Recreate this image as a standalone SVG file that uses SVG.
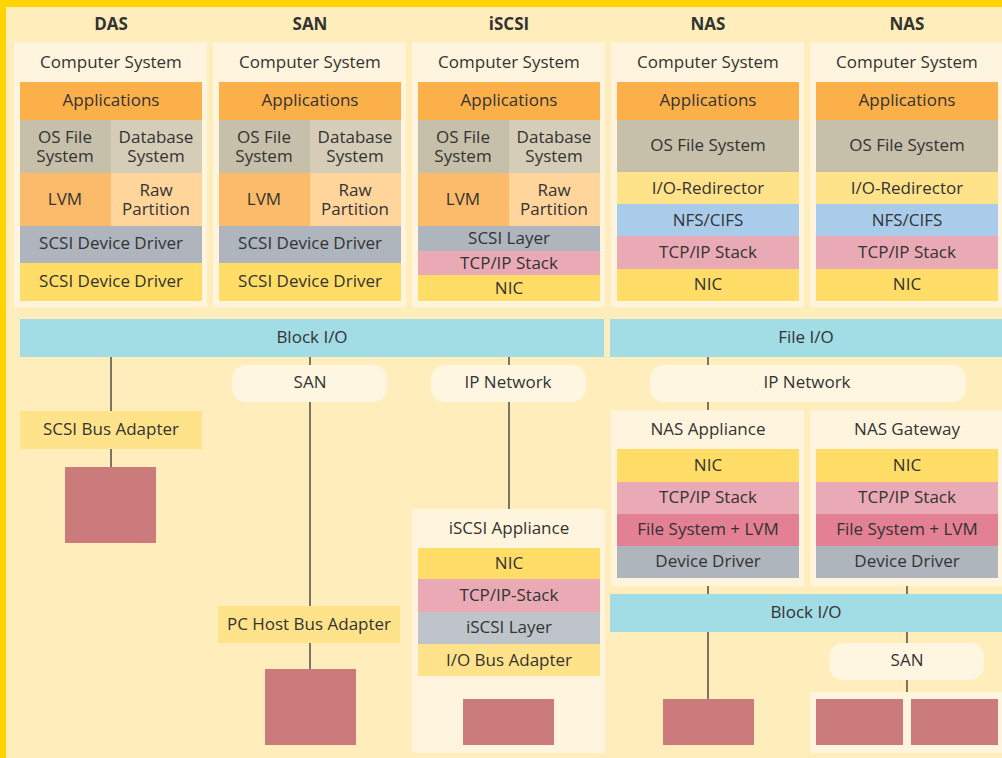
<svg xmlns="http://www.w3.org/2000/svg" width="1002" height="758" viewBox="0 0 1002 758">
<style>
text{font-family:"Open Sans","Noto Sans","Liberation Sans",sans-serif;font-size:17px;fill:#333;text-anchor:middle;dominant-baseline:central}
.title{font-weight:bold}
.panel{fill:#FFF5DE}
.app{fill:#FBB04A}
.osfs{fill:#C6BFAA}
.db{fill:#D5CDB7}
.lvm{fill:#FBBB6A}
.raw{fill:#FFD59C}
.gray{fill:#AEB5BD}
.ylw{fill:#FFDD66}
.lylw{fill:#FFE38A}
.pink{fill:#EAAAB5}
.blue{fill:#AACCEB}
.io{fill:#A2DCE4}
.fs{fill:#E48093}
.lgray{fill:#BEC4CA}
.disk{fill:#CB7B7B}
.pill{fill:#FFF6E2}
.conn line{stroke:#333;stroke-width:1.3}
</style>
<rect x="0" y="0" width="1002" height="758" fill="#FFEEBB"/>
<rect x="0" y="0" width="1002" height="7" fill="#FFD400"/>
<rect x="0" y="0" width="6" height="758" fill="#FFD400"/>

<g id="titles">
<text class="title" x="111" y="23">DAS</text>
<text class="title" x="310" y="23">SAN</text>
<text class="title" x="509" y="23">iSCSI</text>
<text class="title" x="708" y="23">NAS</text>
<text class="title" x="907" y="23">NAS</text>
</g>

<g class="conn" id="connectors">
<line x1="111" y1="357" x2="111" y2="411"/>
<line x1="111" y1="449" x2="111" y2="467"/>
<line x1="310" y1="357" x2="310" y2="365"/>
<line x1="310" y1="402" x2="310" y2="606"/>
<line x1="310" y1="643" x2="310" y2="669"/>
<line x1="509" y1="357" x2="509" y2="365"/>
<line x1="509" y1="402" x2="509" y2="509"/>
<line x1="708" y1="357" x2="708" y2="365"/>
<line x1="708" y1="402" x2="708" y2="410"/>
<line x1="708" y1="586" x2="708" y2="594"/>
<line x1="708" y1="632" x2="708" y2="699"/>
<line x1="907" y1="586" x2="907" y2="594"/>
<line x1="907" y1="632" x2="907" y2="643"/>
<line x1="907" y1="680" x2="907" y2="692"/>
</g>

<g id="das-computer">
<rect class="panel" x="14" y="42" width="193" height="265"/>
<text x="111" y="61">Computer System</text>
<rect class="app" x="20" y="82" width="182" height="38"/><text x="111" y="99">Applications</text>
<rect class="osfs" x="20" y="120" width="91" height="53"/><text x="65" y="136">OS File<tspan x="65" dy="19">System</tspan></text>
<rect class="db" x="111" y="120" width="91" height="53"/><text x="156" y="136">Database<tspan x="156" dy="19">System</tspan></text>
<rect class="lvm" x="20" y="173" width="91" height="53"/><text x="65" y="198">LVM</text>
<rect class="raw" x="111" y="173" width="91" height="53"/><text x="156" y="189">Raw<tspan x="156" dy="19">Partition</tspan></text>
<rect class="gray" x="20" y="226" width="182" height="37"/><text x="111" y="242">SCSI Device Driver</text>
<rect class="ylw" x="20" y="263" width="182" height="38"/><text x="111" y="280">SCSI Device Driver</text>
</g>

<g id="san-computer">
<rect class="panel" x="213" y="42" width="193" height="265"/>
<text x="310" y="61">Computer System</text>
<rect class="app" x="219" y="82" width="182" height="38"/><text x="310" y="99">Applications</text>
<rect class="osfs" x="219" y="120" width="91" height="53"/><text x="264" y="136">OS File<tspan x="264" dy="19">System</tspan></text>
<rect class="db" x="310" y="120" width="91" height="53"/><text x="355" y="136">Database<tspan x="355" dy="19">System</tspan></text>
<rect class="lvm" x="219" y="173" width="91" height="53"/><text x="264" y="198">LVM</text>
<rect class="raw" x="310" y="173" width="91" height="53"/><text x="355" y="189">Raw<tspan x="355" dy="19">Partition</tspan></text>
<rect class="gray" x="219" y="226" width="182" height="37"/><text x="310" y="242">SCSI Device Driver</text>
<rect class="ylw" x="219" y="263" width="182" height="38"/><text x="310" y="280">SCSI Device Driver</text>
</g>

<g id="iscsi-computer">
<rect class="panel" x="412" y="42" width="193" height="265"/>
<text x="509" y="61">Computer System</text>
<rect class="app" x="418" y="82" width="182" height="38"/><text x="509" y="99">Applications</text>
<rect class="osfs" x="418" y="120" width="91" height="53"/><text x="463" y="136">OS File<tspan x="463" dy="19">System</tspan></text>
<rect class="db" x="509" y="120" width="91" height="53"/><text x="554" y="136">Database<tspan x="554" dy="19">System</tspan></text>
<rect class="lvm" x="418" y="173" width="91" height="53"/><text x="463" y="198">LVM</text>
<rect class="raw" x="509" y="173" width="91" height="53"/><text x="554" y="189">Raw<tspan x="554" dy="19">Partition</tspan></text>
<rect class="gray" x="418" y="226" width="182" height="25"/><text x="509" y="237">SCSI Layer</text>
<rect class="pink" x="418" y="251" width="182" height="24"/><text x="509" y="262">TCP/IP Stack</text>
<rect class="ylw" x="418" y="275" width="182" height="26"/><text x="509" y="287">NIC</text>
</g>

<g id="nas1-computer">
<rect class="panel" x="611" y="42" width="193" height="265"/>
<text x="708" y="61">Computer System</text>
<rect class="app" x="617" y="82" width="182" height="38"/><text x="708" y="99">Applications</text>
<rect class="osfs" x="617" y="120" width="182" height="52"/><text x="708" y="144">OS File System</text>
<rect class="lylw" x="617" y="172" width="182" height="32"/><text x="708" y="187">I/O-Redirector</text>
<rect class="blue" x="617" y="204" width="182" height="32"/><text x="708" y="219">NFS/CIFS</text>
<rect class="pink" x="617" y="236" width="182" height="33"/><text x="708" y="251">TCP/IP Stack</text>
<rect class="ylw" x="617" y="269" width="182" height="32"/><text x="708" y="283">NIC</text>
</g>

<g id="nas2-computer">
<rect class="panel" x="810" y="42" width="193" height="265"/>
<text x="907" y="61">Computer System</text>
<rect class="app" x="816" y="82" width="182" height="38"/><text x="907" y="99">Applications</text>
<rect class="osfs" x="816" y="120" width="182" height="52"/><text x="907" y="144">OS File System</text>
<rect class="lylw" x="816" y="172" width="182" height="32"/><text x="907" y="187">I/O-Redirector</text>
<rect class="blue" x="816" y="204" width="182" height="32"/><text x="907" y="219">NFS/CIFS</text>
<rect class="pink" x="816" y="236" width="182" height="33"/><text x="907" y="251">TCP/IP Stack</text>
<rect class="ylw" x="816" y="269" width="182" height="32"/><text x="907" y="283">NIC</text>
</g>

<g id="block-io"><rect class="io" x="20" y="319" width="584" height="38"/><text x="312" y="336">Block I/O</text></g>
<g id="file-io"><rect class="io" x="610" y="319" width="392" height="38"/><text x="806" y="336">File I/O</text></g>

<g id="scsi-bus-adapter"><rect class="lylw" x="20" y="411" width="182" height="38"/><text x="111" y="428">SCSI Bus Adapter</text></g>
<g id="das-disk"><rect class="disk" x="65" y="467" width="91" height="76"/></g>

<g id="san-cloud"><rect class="pill" x="232" y="365" width="155" height="37" rx="14"/><text x="310" y="381">SAN</text></g>
<g id="pc-hba"><rect class="lylw" x="218" y="606" width="182" height="37"/><text x="309" y="623">PC Host Bus Adapter</text></g>
<g id="san-disk"><rect class="disk" x="265" y="669" width="91" height="76"/></g>

<g id="iscsi-ipnet"><rect class="pill" x="431" y="365" width="155" height="37" rx="14"/><text x="508" y="381">IP Network</text></g>
<g id="iscsi-appliance">
<rect class="panel" x="412" y="509" width="193" height="244"/>
<text x="509" y="527">iSCSI Appliance</text>
<rect class="ylw" x="418" y="548" width="182" height="31"/><text x="509" y="562">NIC</text>
<rect class="pink" x="418" y="579" width="182" height="33"/><text x="509" y="594">TCP/IP-Stack</text>
<rect class="lgray" x="418" y="612" width="182" height="32"/><text x="509" y="626">iSCSI Layer</text>
<rect class="lylw" x="418" y="644" width="182" height="32"/><text x="509" y="659">I/O Bus Adapter</text>
<rect class="disk" x="463" y="699" width="91" height="46"/>
</g>

<g id="nas-ipnet"><rect class="pill" x="650" y="365" width="316" height="37" rx="14"/><text x="807" y="381">IP Network</text></g>

<g id="nas-appliance">
<rect class="panel" x="611" y="410" width="193" height="176"/>
<text x="708" y="428">NAS Appliance</text>
<rect class="ylw" x="617" y="449" width="182" height="33"/><text x="708" y="464">NIC</text>
<rect class="pink" x="617" y="482" width="182" height="32"/><text x="708" y="496">TCP/IP Stack</text>
<rect class="fs" x="617" y="514" width="182" height="32"/><text x="708" y="528">File System + LVM</text>
<rect class="gray" x="617" y="546" width="182" height="32"/><text x="708" y="560">Device Driver</text>
</g>

<g id="nas-gateway">
<rect class="panel" x="810" y="410" width="193" height="176"/>
<text x="907" y="428">NAS Gateway</text>
<rect class="ylw" x="816" y="449" width="182" height="33"/><text x="907" y="464">NIC</text>
<rect class="pink" x="816" y="482" width="182" height="32"/><text x="907" y="496">TCP/IP Stack</text>
<rect class="fs" x="816" y="514" width="182" height="32"/><text x="907" y="528">File System + LVM</text>
<rect class="gray" x="816" y="546" width="182" height="32"/><text x="907" y="560">Device Driver</text>
</g>

<g id="nas-block-io"><rect class="io" x="610" y="594" width="392" height="38"/><text x="806" y="611">Block I/O</text></g>
<g id="nas-disk"><rect class="disk" x="663" y="699" width="91" height="46"/></g>
<g id="nas-san"><rect class="pill" x="829" y="643" width="155" height="37" rx="14"/><text x="907" y="659">SAN</text></g>
<g id="nas-storage">
<rect class="panel" x="810" y="692" width="193" height="61"/>
<rect class="disk" x="816" y="699" width="87" height="46"/>
<rect class="disk" x="911" y="699" width="87" height="46"/>
</g>
</svg>
